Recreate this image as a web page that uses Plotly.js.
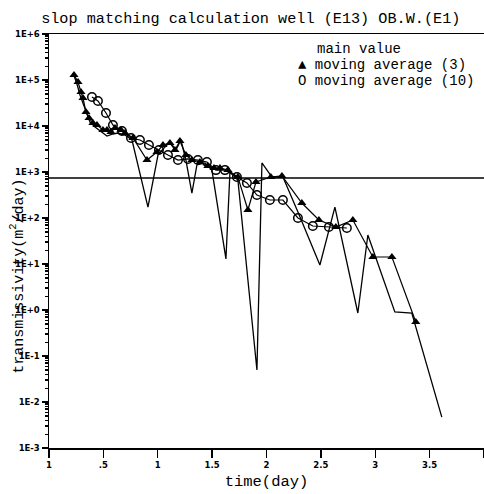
<!DOCTYPE html>
<html>
<head>
<meta charset="utf-8">
<script src="https://cdn.plot.ly/plotly-3.0.1.min.js"></script>
<style>html,body{margin:0;padding:0;background:#fff;}#chart{width:484px;height:494px;}</style>
</head>
<body>
<div id="chart"></div>
<script>
// ---- data ----
var mainX = [0.221,0.257,0.285,0.3125,0.340,0.377,0.423,0.469,0.533,0.588,0.634,0.699,0.763,0.910,1.002,1.057,1.112,1.167,1.213,1.259,1.314,1.360,1.434,1.498,1.627,1.664,1.737,1.912,1.958,2.050,2.151,2.289,2.491,2.629,2.840,2.932,3.180,3.336,3.612];
var mainY = [1.42e5,8.19e4,4.72e4,3.16e4,1.92e4,1.22e4,9.51e3,7.79e3,6.06e3,6.70e3,7.04e3,6.37e3,4.96e3,173,2.34e3,3.33e3,4.49e3,3.01e3,4.96e3,1.82e3,349,1.42e3,1.57e3,1.10e3,12.9,1.0e3,670,0.0497,1.57e3,778,778,135,9.5,173,0.86,42.7,0.906,0.86,0.0047];

var ma3X = [0.230,0.267,0.294,0.3125,0.340,0.368,0.404,0.441,0.496,0.533,0.570,0.607,0.662,0.699,0.772,0.901,0.993,1.048,1.112,1.158,1.204,1.259,1.314,1.388,1.461,1.517,1.572,1.645,1.737,1.829,1.903,2.040,2.142,2.325,2.482,2.638,2.794,2.978,3.153,3.373];
var ma3Y = [1.29e5,9.06e4,5.48e4,4.06e4,2.01e4,1.49e4,1.16e4,1.05e4,8.18e3,8.18e3,7.41e3,9.06e3,8.18e3,7.04e3,5.48e3,1.82e3,2.72e3,3.86e3,4.27e3,3.01e3,4.72e3,2.34e3,1.82e3,1.65e3,1.35e3,1.22e3,1.22e3,1.10e3,778,149,607,778,819,212,90.6,63.7,90.6,14.2,14.2,0.548];

var ma10X = [0.395,0.450,0.524,0.588,0.671,0.754,0.836,0.919,1.011,1.094,1.186,1.278,1.369,1.452,1.535,1.618,1.728,1.820,1.912,2.031,2.151,2.289,2.426,2.574,2.739];
var ma10Y = [4.27e4,3.49e4,1.92e4,1.05e4,7.79e3,5.48e3,4.96e3,3.86e3,3.01e3,2.34e3,1.82e3,1.92e3,1.82e3,1.65e3,1.10e3,1.10e3,778,577,316,246,246,100,67,63.7,60.6];

var hantushX = [0, 4];
var hantushY = [740, 740];

var xTickVals = [0,0.5,1,1.5,2,2.5,3,3.5,4];
var xTickText = ["1",".5","1","1.5","2","2.5","3","3.5","4"];
var yTickVals = [1e-3,1e-2,1e-1,1,1e1,1e2,1e3,1e4,1e5,1e6];
var yTickText = ["1E-3","1E-2","1E-1","1E+0","1E+1","1E+2","1E+3","1E+4","1E+5","1E+6"];

var seriesNames = ["main value","moving average (3)","moving average (10)"];

// ---- chart ----
var mono = "Liberation Mono, Courier New, monospace";
var tickFont = {family: "DejaVu Sans, sans-serif", size: 8.5, color: "#000", weight: "bold"};

var traces = [
  {x: mainX, y: mainY, mode: "lines", name: seriesNames[0],
   line: {color: "#000", width: 1.3}},
  {x: ma3X, y: ma3Y, mode: "lines+markers", name: seriesNames[1],
   line: {color: "#000", width: 1.2},
   marker: {symbol: "triangle-up", size: 8, color: "#000"}},
  {x: ma10X, y: ma10Y, mode: "lines+markers", name: seriesNames[2],
   line: {color: "#000", width: 1.2},
   marker: {symbol: "circle-open", size: 8.5, color: "#000", line: {width: 1.5, color: "#000"}}},
  {x: hantushX, y: hantushY, mode: "lines", name: "HANTUSH",
   line: {color: "#000", width: 1.4}}
];

var layout = {
  width: 484, height: 494,
  margin: {l: 49, r: 0, t: 34, b: 46},
  paper_bgcolor: "#fff", plot_bgcolor: "#fff",
  showlegend: false,
  title: {text: "slop matching calculation well (E13) OB.W.(E1)",
          font: {family: mono, size: 15.2, color: "#000"},
          x: 0.085, xref: "container", xanchor: "left", y: 0.975, yref: "container"},
  xaxis: {range: [0, 4], tickmode: "array", tickvals: xTickVals, ticktext: xTickText,
          ticks: "outside", ticklen: 8, tickwidth: 1.3, tickcolor: "#000",
          showline: true, linecolor: "#000", linewidth: 1.5, mirror: true,
          showgrid: false, zeroline: false, tickfont: tickFont,
          title: {text: "time(day)", font: {family: mono, size: 15.5, color: "#000"}, standoff: 6}},
  yaxis: {type: "log", range: [-3, 6], tickmode: "array", tickvals: yTickVals, ticktext: yTickText,
          ticks: "outside", ticklen: 6, tickwidth: 1.3, tickcolor: "#000",
          minor: {ticks: "outside", ticklen: 3, tickcolor: "#000", dtick: "D1", showgrid: false},
          showline: true, linecolor: "#000", linewidth: 1.5, mirror: true,
          showgrid: false, zeroline: false, tickfont: tickFont},
  annotations: [
    {xref: "paper", yref: "paper", x: -0.072, y: 0.415, text: "transmissivity(m<sup>2</sup>/day)",
     textangle: -90, showarrow: false, font: {family: mono, size: 15, color: "#000"},
     xanchor: "center", yanchor: "middle"},
    {xref: "x", yref: "y", x: 3.95, y: 740, text: "HANTUSH", showarrow: false,
     font: {family: mono, size: 13, color: "#000"}, xanchor: "right", yanchor: "bottom", yshift: 1},
    {xref: "x", yref: "paper", x: 2.445, y: 0.963, text: seriesNames[0], showarrow: false,
     font: {family: mono, size: 14, color: "#000"}, xanchor: "left", yanchor: "middle"},
    {xref: "x", yref: "paper", x: 2.27, y: 0.924, text: "\u25B2 " + seriesNames[1], showarrow: false,
     font: {family: mono, size: 14, color: "#000"}, xanchor: "left", yanchor: "middle"},
    {xref: "x", yref: "paper", x: 2.27, y: 0.886, text: "O " + seriesNames[2], showarrow: false,
     font: {family: mono, size: 14, color: "#000"}, xanchor: "left", yanchor: "middle"}
  ]
};

Plotly.newPlot("chart", traces, layout, {displayModeBar: false, staticPlot: true});
</script>
</body>
</html>
